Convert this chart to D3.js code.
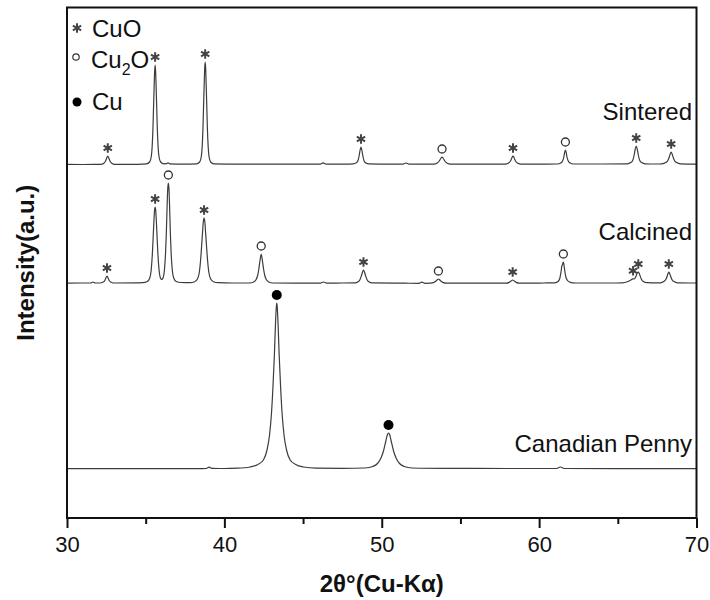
<!DOCTYPE html>
<html><head><meta charset="utf-8">
<script src="https://cdn.jsdelivr.net/npm/d3@7"></script>
<style>body{margin:0;background:#fff}text{font-family:"Liberation Sans",Arial,sans-serif}</style>
</head><body><svg id="chart" width="710" height="600"></svg>
<script>
// XRD patterns: [2θ (deg), intensity above the pattern's own baseline (a.u.)]
const sintered = [
[30.0,0.6],[31.0,0.5],[32.0,0.6],
[32.14,0.6],[32.34,1.8],[32.45,4],[32.52,6.8],[32.59,9],[32.66,6.8],[32.73,4],[32.84,1.8],[33.04,0.6],
[34.5,0.7],[35.05,1.2],[35.25,3],[35.35,8],[35.41,18],[35.46,36],[35.50,58],[35.54,80],[35.57,94],[35.60,100],[35.63,94],[35.66,80],[35.70,58],[35.74,36],[35.79,18],[35.85,8],[35.95,3],[36.15,1.2],
[36.32,1.3],[36.42,2.2],[36.52,1.2],[37.4,0.9],
[38.23,1.2],[38.43,3],[38.53,8],[38.59,18.5],[38.64,37],[38.68,60],[38.72,82],[38.75,97],[38.78,103],[38.81,97],[38.84,82],[38.88,60],[38.92,37],[38.97,18.5],[39.03,8],[39.13,3],[39.33,1.2],
[41.0,0.8],[43.0,0.8],[45.5,0.8],[46.1,0.8],[46.28,2.2],[46.46,0.8],[47.7,0.9],
[48.18,1.2],[48.36,2],[48.48,4],[48.56,9],[48.62,14.5],[48.68,18],[48.74,14.5],[48.80,9],[48.88,4],[49.0,2],[49.18,1.1],
[50.5,0.8],[51.35,0.8],[51.54,2],[51.73,0.8],
[53.3,0.9],[53.5,1.8],[53.63,3.5],[53.71,5.5],[53.77,7],[53.83,8],[53.89,7],[53.95,5.5],[54.03,3.5],[54.16,1.8],[54.36,0.9],
[56.0,0.8],
[57.84,0.9],[58.04,1.8],[58.16,3.5],[58.24,6],[58.29,8],[58.34,9],[58.39,8],[58.44,6],[58.52,3.5],[58.64,1.8],[58.84,0.9],
[60.5,0.9],
[61.17,1],[61.37,2],[61.49,4],[61.57,8],[61.62,12.5],[61.67,15],[61.72,12.5],[61.77,8],[61.85,4],[61.97,2],[62.17,1],
[64.0,1],
[65.6,1.2],[65.82,2.4],[65.95,4.8],[66.04,10],[66.10,15.5],[66.17,19],[66.24,15.5],[66.30,10],[66.39,4.8],[66.52,2.4],[66.74,1.2],
[67.4,1],
[67.8,1.2],[68.04,2.4],[68.18,4.5],[68.27,8],[68.33,11],[68.39,13],[68.45,11],[68.51,8],[68.60,4.5],[68.74,2.4],[68.98,1.2],
[70.0,0.8]
];
const calcined = [
[30.0,0.8],[31.0,1],[31.5,1],[31.65,2],[31.8,1],
[32.1,1],[32.3,2],[32.4,3.5],[32.47,6],[32.54,8],[32.61,6],[32.68,3.5],[32.78,2],[32.98,1],
[34.4,1.2],[34.8,1.3],[35.1,2.5],[35.26,6],[35.35,14],[35.42,29],[35.47,45],[35.52,62],[35.56,73],[35.60,77],[35.64,73],[35.68,62],[35.73,45],[35.78,29],[35.85,14],[35.94,6],
[36.02,4.5],
[36.10,6],[36.19,14],[36.26,30],[36.31,50],[36.36,77],[36.40,95],[36.44,101],[36.48,95],[36.52,77],[36.57,50],[36.62,30],[36.69,14],[36.78,6],[36.94,2.5],[37.24,1.5],
[37.81,1.3],[38.11,2.3],[38.29,5],[38.41,12],[38.49,24],[38.55,37],[38.61,51],[38.66,62],[38.71,66],[38.76,62],[38.81,51],[38.87,37],[38.93,24],[39.01,12],[39.13,5],[39.31,2.3],[39.61,1.3],
[40.5,1],
[41.6,1],[41.86,2],[42.02,4.5],[42.12,9],[42.19,15],[42.26,23],[42.34,30],[42.42,23],[42.49,15],[42.56,9],[42.66,4.5],[42.82,2],[43.08,1],
[44.5,0.8],[46.1,0.8],[46.3,2],[46.5,0.8],[47.5,1],
[48.3,1.1],[48.5,2.2],[48.62,4.5],[48.70,8],[48.77,11.5],[48.84,14],[48.91,11.5],[48.98,8],[49.06,4.5],[49.18,2.2],[49.38,1.1],
[51.5,0.8],[52.35,0.7],[52.55,1.8],[52.75,0.7],
[53.1,0.8],[53.32,1.6],[53.45,3],[53.53,4.3],[53.60,5],[53.67,4.3],[53.75,3],[53.88,1.6],[54.1,0.8],
[56.5,0.8],
[57.9,0.8],[58.1,1.6],[58.22,3],[58.32,4],[58.42,3],[58.54,1.6],[58.74,0.8],
[60.3,1],
[61.0,1.2],[61.2,2.5],[61.32,6],[61.40,13],[61.45,18.5],[61.48,19],[61.51,21],[61.54,22],[61.58,19],[61.63,13],[61.70,7],[61.80,3.5],[61.98,1.6],[62.3,1],
[64.5,1],
[65.3,1.2],[65.6,2.2],[65.78,3.6],[65.90,4.8],[65.97,5.2],[66.05,5],[66.12,6.5],[66.20,9.5],[66.26,11.5],[66.30,12],[66.35,11],[66.42,8],[66.50,4.8],[66.62,2.5],[66.85,1.3],
[67.5,1.1],
[67.7,1.2],[67.92,2.4],[68.06,4.8],[68.14,8],[68.19,10.5],[68.24,12],[68.29,10.5],[68.35,8],[68.43,4.8],[68.57,2.4],[68.8,1.2],
[70.0,1]
];
const penny = [
[30.0,0.3],[35.0,0.3],[38.6,0.4],[38.85,0.5],[39.03,1.8],[39.2,0.6],[40.0,0.5],[40.83,0.8],
[41.63,2],[42.13,4.5],[42.48,9],[42.71,19],[42.87,34],[42.99,55],[43.09,83],[43.18,115],[43.25,146],[43.30,162],[43.33,166],[43.36,162],[43.41,146],[43.48,115],[43.57,83],[43.67,55],[43.79,34],[43.95,19],[44.18,9],[44.53,4.5],[45.03,2],[45.83,0.8],
[47.5,0.6],
[48.93,1],[49.43,2.5],[49.73,5.5],[49.95,11],[50.11,18],[50.26,28],[50.35,34],[50.43,36],[50.51,34],[50.60,28],[50.75,18],[50.91,11],[51.13,5.5],[51.43,2.5],[51.93,1],
[54.0,0.6],[58.0,0.5],[61.1,0.5],[61.35,2],[61.6,0.5],[65.0,0.4],[70.0,0.4]
];

// Vertical offsets used to stack the three patterns (a.u.)
const offsets = {Sintered: 353, Calcined: 234, "Canadian Penny": 49};

// Phase assignments: [2θ, phase]
const sinteredPeaks = [[32.59,"CuO"],[35.60,"CuO"],[38.78,"CuO"],[48.68,"CuO"],[53.83,"Cu2O"],[58.34,"CuO"],[61.67,"Cu2O"],[66.17,"CuO"],[68.39,"CuO"]];
const calcinedPeaks = [[32.54,"CuO"],[35.60,"CuO"],[36.44,"Cu2O"],[38.71,"CuO"],[42.34,"Cu2O"],[48.84,"CuO"],[53.60,"Cu2O"],[58.32,"CuO"],[61.54,"Cu2O"],[65.97,"CuO"],[66.30,"CuO"],[68.24,"CuO"]];
const pennyPeaks = [[43.33,"Cu"],[50.43,"Cu"]];

const xTicks = [30, 40, 50, 60, 70];
const xMinorTicks = [35, 45, 55, 65];

const series = [
  {name: "Sintered", data: sintered, peaks: sinteredPeaks, labelY: 120},
  {name: "Calcined", data: calcined, peaks: calcinedPeaks, labelY: 240},
  {name: "Canadian Penny", data: penny, peaks: pennyPeaks, labelY: 452}
];

const svg = d3.select("#chart");
const plotLeft = 67, plotRight = 696.5, plotTop = 7.5, plotBottom = 518;
const x = d3.scaleLinear().domain([30, 70]).range([plotLeft, plotRight]);
const y = d3.scaleLinear().domain([0, 510.5]).range([plotBottom, plotTop]);

const line = d3.line().curve(d3.curveMonotoneX);

function drawMarker(g, phase, px, py) {
  if (phase === "CuO") {
    g.append("path").attr("d", d3.symbol(d3.symbolAsterisk, 64)())
      .attr("transform", `translate(${px},${py})`)
      .attr("fill", "none").attr("stroke", "#444").attr("stroke-width", 2);
  } else if (phase === "Cu2O") {
    g.append("circle").attr("cx", px).attr("cy", py).attr("r", 4)
      .attr("fill", "#fff").attr("stroke", "#333").attr("stroke-width", 1.3);
  } else {
    g.append("circle").attr("cx", px).attr("cy", py).attr("r", 5).attr("fill", "#000");
  }
}

series.forEach(s => {
  const off = offsets[s.name];
  const pts = s.data.map(d => [x(d[0]), y(d[1] + off)]);
  svg.append("path").attr("d", line(pts))
    .attr("fill", "none").attr("stroke", "#3c3c3c").attr("stroke-width", 1.2);

  svg.append("text").attr("x", 692).attr("y", s.labelY)
    .attr("text-anchor", "end").attr("font-size", 24).attr("fill", "#111").text(s.name);

  s.peaks.forEach(([deg, phase]) => {
    const peakMax = d3.max(s.data.filter(d => Math.abs(d[0] - deg) < 0.05), d => d[1]);
    drawMarker(svg, phase, x(deg), y(peakMax + off) - 8);
  });
});

// Frame
svg.append("rect").attr("x", plotLeft).attr("y", plotTop)
  .attr("width", plotRight - plotLeft).attr("height", plotBottom - plotTop)
  .attr("fill", "none").attr("stroke", "#111").attr("stroke-width", 2);

// X axis
const ax = svg.append("g").attr("transform", `translate(0,${plotBottom})`)
  .call(d3.axisBottom(x).tickValues(xTicks).tickSize(10).tickPadding(8).tickFormat(d3.format("d")));
ax.select(".domain").remove();
ax.selectAll(".tick line").attr("stroke", "#111").attr("stroke-width", 2);
ax.selectAll(".tick text").attr("font-size", 22).attr("fill", "#111")
  .style("font-family", '"Liberation Sans", Arial, sans-serif');
const axm = svg.append("g").attr("transform", `translate(0,${plotBottom})`)
  .call(d3.axisBottom(x).tickValues(xMinorTicks).tickSize(6).tickFormat(""));
axm.select(".domain").remove();
axm.selectAll(".tick line").attr("stroke", "#111").attr("stroke-width", 2);

// Axis titles
svg.append("text").attr("x", (plotLeft + plotRight) / 2).attr("y", 592).attr("text-anchor", "middle")
  .attr("font-size", 24).attr("font-weight", "bold").attr("fill", "#111").text("2θ°(Cu-Kα)");
svg.append("text").attr("transform", `translate(34,${(plotTop + plotBottom) / 2}) rotate(-90)`)
  .attr("text-anchor", "middle").attr("font-size", 24).attr("font-weight", "bold").attr("fill", "#111")
  .text("Intensity(a.u.)");

// Legend
const legend = svg.append("g");
legend.append("path").attr("d", d3.symbol(d3.symbolAsterisk, 64)())
  .attr("transform", "translate(77,28)").attr("fill", "none").attr("stroke", "#444").attr("stroke-width", 2);
legend.append("text").attr("x", 92).attr("y", 37).attr("font-size", 24).attr("fill", "#111").text("CuO");
legend.append("circle").attr("cx", 76).attr("cy", 57).attr("r", 3.2)
  .attr("fill", "#fff").attr("stroke", "#333").attr("stroke-width", 1.2);
const t2 = legend.append("text").attr("x", 91).attr("y", 68).attr("font-size", 24).attr("fill", "#111");
t2.append("tspan").text("Cu");
t2.append("tspan").attr("font-size", 16).attr("dy", 7).text("2");
t2.append("tspan").attr("dy", -7).text("O");
legend.append("circle").attr("cx", 77).attr("cy", 102).attr("r", 4.5).attr("fill", "#000");
legend.append("text").attr("x", 92).attr("y", 110).attr("font-size", 24).attr("fill", "#111").text("Cu");
</script></body></html>
